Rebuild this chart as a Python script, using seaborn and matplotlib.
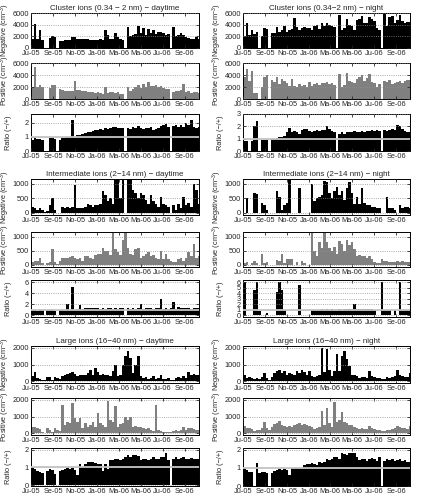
import numpy as np
import seaborn as sns
import matplotlib.pyplot as plt

# weekly means, first week starting 1 July 2005
cluster_day_neg = [1500, 4100, 1500, 3000, 1400, 0, 0, 1700, 2000, 1800,
                   0, 1200, 1200, 1300, 1300, 1400, 1800, 1900, 1500, 1600,
                   1500, 1600, 1500, 1400, 1400, 1300, 1400, 1500, 1300, 3000,
                   2300, 1500, 1600, 2500, 1800, 1600, 1300, 0, 3600, 2000,
                   2200, 2400, 3800, 2600, 3400, 2300, 3300, 2600, 3000, 2400,
                   2800, 2700, 2500, 2200, 2400, 0, 3600, 2000, 2200, 2500,
                   2200, 1800, 1700, 1500, 1500, 1900, 1600]
cluster_day_pos = [2000, 5400, 2000, 2400, 2000, 0, 0, 1800, 2300, 2300,
                   0, 1600, 1500, 1400, 1300, 1400, 1300, 3000, 1500, 1500,
                   1400, 1300, 1200, 1100, 1200, 1000, 1100, 1000, 900, 2000,
                   1000, 1100, 1200, 1000, 1100, 900, 800, 0, 2000, 1400,
                   1600, 2000, 2300, 1800, 2500, 2000, 2800, 2200, 2200, 2400,
                   2000, 2200, 1800, 1700, 1600, 0, 1200, 1300, 1400, 1500,
                   2500, 1200, 1300, 1000, 1100, 1200, 1000]
cluster_day_ratio = [0.8, 0.9, 0.85, 0.85, 0.75, 0, 0, 0.9, 0.9, 0.85,
                     0, 0.8, 0.9, 0.9, 0.95, 0.95, 2.2, 0.95, 1.1, 1.15,
                     1.2, 1.25, 1.3, 1.35, 1.4, 1.45, 1.5, 1.55, 1.5, 1.6,
                     1.55, 1.6, 1.7, 1.7, 1.6, 1.65, 1.6, 0, 1.6, 1.55,
                     1.7, 1.6, 1.75, 1.6, 1.55, 1.65, 1.6, 1.7, 1.5, 1.55,
                     1.6, 1.75, 1.8, 1.9, 1.7, 0, 1.75, 1.8, 1.7, 1.85,
                     1.7, 2.0, 1.8, 2.2, 1.7, 1.65, 1.7]

cluster_night_neg = [1900, 4300, 2200, 3100, 2400, 2800, 0, 2000, 3400, 3300,
                     0, 2500, 2600, 3600, 2700, 3000, 3800, 2800, 3000, 3300,
                     5200, 3600, 3000, 3400, 3600, 3500, 3500, 3000, 3800, 3900,
                     3200, 4200, 3700, 4300, 4000, 3800, 3600, 0, 5600, 3000,
                     3500, 5000, 4000, 3700, 3100, 4800, 5000, 5500, 4300, 4200,
                     5300, 5000, 4600, 3500, 3000, 0, 5800, 3800, 5300, 5400,
                     4200, 4800, 5600, 4600, 4300, 4400, 4500]
cluster_night_pos = [3700, 5000, 3000, 4600, 1000, 1000, 0, 2000, 3600, 4000,
                     0, 3200, 2800, 3600, 2500, 3300, 3000, 2600, 2100, 3300,
                     2200, 2000, 2500, 2100, 2400, 2000, 2800, 2200, 2500, 2600,
                     2300, 2700, 2600, 2800, 2500, 2700, 2400, 0, 4200, 2000,
                     2400, 4300, 3000, 2800, 2600, 3300, 3600, 4000, 3000, 3500,
                     4100, 2800, 2600, 2000, 2500, 0, 3000, 2800, 3200, 2500,
                     2600, 2800, 3000, 2600, 3000, 3100, 3100]
cluster_night_ratio = [0.8, 0.8, 0, 0.8, 2.0, 2.4, 0, 0.9, 0.9, 0.9,
                       0, 0.95, 1.0, 1.05, 1.1, 1.1, 1.2, 1.5, 1.85, 1.5,
                       1.6, 1.5, 1.4, 1.7, 1.8, 1.75, 1.6, 1.5, 1.6, 1.7,
                       1.6, 1.7, 1.7, 2.0, 1.8, 1.6, 1.5, 0, 1.4, 1.5,
                       1.4, 1.5, 1.5, 1.5, 1.6, 1.5, 1.5, 1.6, 1.5, 1.6,
                       1.6, 1.7, 1.6, 1.7, 1.6, 0, 1.7, 1.6, 1.7, 1.8,
                       1.7, 2.1, 2.0, 1.8, 1.6, 1.5, 1.5]

inter_day_neg = [200, 150, 100, 150, 80, 30, 50, 250, 500, 100,
                 0, 0, 200, 180, 200, 180, 200, 950, 150, 150,
                 150, 200, 300, 250, 200, 250, 250, 300, 750, 600,
                 400, 500, 300, 1150, 1300, 500, 1300, 0, 1300, 1300,
                 800, 700, 500, 700, 600, 450, 300, 600, 400, 300,
                 200, 550, 300, 250, 200, 0, 250, 100, 300, 150,
                 550, 250, 350, 200, 1000, 800, 300]
inter_day_pos = [100, 120, 150, 250, 80, 0, 50, 100, 580, 100,
                 30, 150, 250, 250, 250, 280, 300, 250, 200, 250,
                 150, 300, 300, 250, 200, 350, 380, 400, 600, 500,
                 500, 350, 1150, 550, 450, 350, 900, 1150, 600, 400,
                 350, 550, 600, 250, 300, 400, 450, 300, 350, 250,
                 200, 500, 200, 400, 200, 150, 100, 100, 200, 250,
                 150, 250, 450, 300, 750, 250, 300]
inter_day_ratio = [0.9, 0.9, 0.8, 0.9, 0.9, 0, 0.9, 0.9, 0.9, 0.8,
                   0, 0.9, 1.0, 1.0, 2.0, 1.0, 5.2, 1.0, 1.1, 1.8,
                   1.2, 1.3, 1.3, 1.4, 1.3, 1.4, 1.3, 1.2, 1.3, 1.2,
                   1.3, 1.4, 1.2, 1.3, 1.2, 1.3, 1.4, 0, 1.3, 1.2,
                   1.3, 1.2, 1.3, 2.0, 1.2, 1.3, 1.4, 1.3, 1.2, 1.3,
                   1.3, 3.0, 1.2, 1.3, 1.2, 1.3, 2.5, 1.2, 1.6, 1.3,
                   1.4, 1.3, 1.3, 1.2, 1.4, 1.3, 1.3]

inter_night_neg = [0, 500, 0, 0, 700, 650, 0, 330, 250, 80,
                   0, 0, 0, 750, 550, 100, 250, 350, 1130, 0,
                   0, 0, 850, 0, 0, 0, 0, 1000, 400, 500,
                   550, 600, 1100, 1050, 700, 500, 750, 900, 600, 750,
                   450, 850, 1050, 700, 300, 550, 300, 850, 350, 250,
                   250, 200, 200, 150, 150, 0, 0, 550, 150, 150,
                   100, 0, 250, 150, 200, 200, 150]
inter_night_pos = [70, 100, 0, 80, 150, 50, 0, 380, 50, 100,
                   0, 0, 0, 180, 150, 380, 80, 200, 200, 200,
                   0, 100, 0, 150, 50, 0, 0, 1150, 500, 300,
                   800, 600, 1150, 800, 600, 500, 650, 400, 850, 750,
                   500, 900, 700, 800, 550, 300, 350, 300, 300, 250,
                   300, 200, 100, 80, 80, 200, 150, 150, 100, 100,
                   100, 130, 100, 150, 100, 100, 100]
inter_night_ratio = [6.0, 0, 0, 0, 4.5, 6.0, 0.7, 0, 0, 0.5,
                     0, 0, 0, 4.2, 6.0, 4.6, 1.0, 0, 0, 0,
                     0, 0, 5.5, 0, 0, 0, 0, 1.0, 0.9, 1.0,
                     1.0, 1.1, 1.0, 1.1, 1.0, 1.1, 1.0, 1.0, 1.1, 1.0,
                     1.1, 1.2, 1.1, 1.2, 2.0, 1.1, 1.2, 1.1, 1.2, 1.1,
                     1.1, 1.2, 1.0, 0, 0, 6.0, 1.0, 1.0, 1.0, 0,
                     1.0, 0, 6.0, 1.0, 1.0, 1.0, 1.0]

large_day_neg = [300, 550, 200, 150, 50, 100, 250, 250, 100, 250,
                 200, 150, 300, 350, 450, 500, 550, 450, 300, 350,
                 400, 350, 500, 650, 400, 800, 550, 350, 450, 350,
                 400, 300, 600, 1000, 300, 400, 1000, 1500, 1800, 1400,
                 500, 1000, 1500, 300, 200, 250, 150, 200, 300, 150,
                 200, 350, 150, 150, 200, 50, 100, 200, 250, 200,
                 300, 200, 550, 400, 450, 400, 350]
large_day_pos = [400, 350, 300, 250, 100, 0, 300, 200, 100, 300,
                 200, 150, 1700, 500, 700, 600, 1800, 900, 700, 900,
                 300, 600, 400, 500, 650, 400, 1200, 600, 500, 400,
                 1950, 800, 700, 1600, 400, 550, 600, 1000, 800, 1000,
                 400, 450, 350, 400, 300, 250, 300, 200, 150, 1700,
                 200, 150, 100, 100, 100, 100, 150, 200, 150, 200,
                 350, 200, 300, 300, 250, 200, 200]
large_day_ratio = [0.95, 0.9, 0.8, 0.75, 0.7, 0, 0.8, 0.9, 0.85, 0.65,
                   0, 0.8, 0.85, 0.9, 0.95, 0.9, 0.95, 0.85, 0.6, 1.2,
                   1.0, 1.2, 1.3, 1.3, 1.3, 1.25, 1.2, 1.2, 0.8, 1.2,
                   0.9, 1.4, 1.4, 1.5, 1.5, 1.4, 1.5, 1.6, 1.7, 1.6,
                   1.7, 1.7, 1.65, 1.4, 1.5, 1.5, 1.4, 1.5, 1.6, 1.5,
                   1.5, 1.6, 1.6, 1.8, 1.4, 0, 1.5, 1.6, 1.5, 1.55,
                   1.6, 1.5, 1.5, 1.55, 1.5, 1.5, 1.45]

large_night_neg = [350, 200, 250, 200, 150, 200, 150, 250, 500, 200,
                   100, 250, 500, 600, 700, 500, 600, 400, 500, 450,
                   350, 600, 500, 650, 550, 400, 600, 300, 250, 300,
                   400, 2000, 550, 1900, 700, 300, 600, 1600, 600, 1500,
                   1800, 1300, 900, 400, 350, 300, 200, 250, 250, 200,
                   600, 300, 250, 200, 200, 150, 150, 250, 200, 250,
                   300, 700, 400, 300, 250, 250, 500]
large_night_pos = [450, 300, 300, 250, 150, 200, 200, 300, 650, 300,
                   200, 400, 550, 600, 750, 500, 450, 400, 450, 350,
                   500, 550, 600, 500, 550, 500, 450, 350, 250, 300,
                   400, 1350, 500, 1500, 600, 400, 1850, 650, 800, 1250,
                   650, 600, 500, 500, 350, 300, 250, 300, 250, 250,
                   450, 300, 250, 200, 200, 150, 150, 200, 200, 250,
                   300, 450, 350, 300, 300, 250, 450]
large_night_ratio = [0.95, 0.9, 0.8, 0.75, 0, 1.25, 0.7, 0.75, 0.8, 0.7,
                     0, 0.7, 0.85, 0.9, 0.95, 0.9, 0.95, 0.9, 0.6, 1.0,
                     1.0, 1.0, 1.0, 1.0, 1.15, 1.2, 1.2, 1.25, 1.2, 1.15,
                     1.3, 1.25, 1.35, 1.5, 1.45, 1.5, 1.6, 1.6, 1.5, 1.8,
                     1.75, 1.7, 1.8, 1.85, 1.8, 1.6, 1.45, 1.5, 1.5, 1.4,
                     1.5, 1.55, 1.5, 1.4, 1.6, 0, 1.4, 1.5, 1.45, 1.5,
                     1.4, 1.45, 1.5, 1.4, 1.45, 1.35, 1.3]

days = [3.5 + 7 * i for i in range(len(cluster_day_neg))]
tick_days = [0, 62, 123, 184, 243, 304, 365, 427]
tick_labels = ['Ju-05', 'Se-05', 'No-05', 'Ja-06', 'Ma-06', 'Ma-06', 'Ju-06', 'Se-06']

titles = [['Cluster ions (0.34 \u2212 2 nm) \u2212 daytime', 'Cluster ions (0.34\u22122 nm) \u2212 night'],
          ['Intermediate ions (2\u221214 nm) \u2212 daytime', 'Intermediate ions (2\u221214 nm) \u2212 night'],
          ['Large ions (16\u221240 nm) \u2212 daytime', 'Large ions (16\u221240 nm) \u2212 night']]
series = [[(cluster_day_neg, cluster_day_pos, cluster_day_ratio),
           (cluster_night_neg, cluster_night_pos, cluster_night_ratio)],
          [(inter_day_neg, inter_day_pos, inter_day_ratio),
           (inter_night_neg, inter_night_pos, inter_night_ratio)],
          [(large_day_neg, large_day_pos, large_day_ratio),
           (large_night_neg, large_night_pos, large_night_ratio)]]

conc_lim = [(0, 6000), (-80, 1170), (-100, 2100)]
conc_ticks = [[0, 2000, 4000, 6000], [0, 500, 1000], [0, 1000, 2000]]
ratio_lim = [[(0, 2.6), (0, 3)], [(-0.3, 6.4), (-0.3, 6.4)], [(-0.05, 2.1), (0, 2.1)]]
ratio_ticks = [[[0, 1, 2], [0, 1, 2, 3]], [[0, 2, 4, 6], [0, 1, 2, 3, 4, 5, 6]], [[0, 1, 2], [0, 1, 2]]]

# panel rows in pixels (top, bottom)
rows_px = [[(13, 48), (63, 99), (114, 151)],
           [(179, 215), (232, 267), (280, 317)],
           [(346, 383), (398, 435), (448, 486)]]
cols_px = [(31, 199), (243, 410)]

sns.set_style('white')
plt.rcParams['font.family'] = ['Liberation Sans', 'DejaVu Sans']
plt.rcParams['mathtext.fontset'] = 'custom'
plt.rcParams['mathtext.rm'] = 'Liberation Sans'

W, H = 423, 498
fig = plt.figure(figsize=(W / 100, H / 100), dpi=100)

def style_axis(ax, ylim, yticks, ylabel):
    ax.set_xlim(0, 466)
    ax.set_ylim(*ylim)
    ax.set_xticks(tick_days)
    ax.set_xticklabels(tick_labels)
    ax.set_yticks(yticks)
    ax.set_yticklabels([str(t) for t in yticks])
    ax.tick_params(direction='in', length=2, width=0.6, labelsize=5.3, pad=1.5,
                   top=True, right=True, bottom=True, left=True)
    ax.yaxis.grid(True, linestyle=':', color='#909090', linewidth=0.6)
    ax.set_axisbelow(False)
    for s in ax.spines.values():
        s.set_linewidth(0.7)
        s.set_color('black')
    ax.set_xlabel('')
    ax.set_ylabel(ylabel, fontsize=5.3, labelpad=0)
    ax.yaxis.set_label_coords(-0.113, 0.5)

for r in range(3):
    for c in range(2):
        neg, pos, ratio = series[r][c]
        x0, x1 = cols_px[c]
        panels = [(neg, 'black', conc_lim[r], conc_ticks[r], 'Negative (cm$^{-3}$)'),
                  (pos, '#808080', conc_lim[r], conc_ticks[r], 'Positive (cm$^{-3}$)'),
                  (ratio, 'black', ratio_lim[r][c], ratio_ticks[r][c], 'Ratio (\u2212/+)')]
        for k, (vals, col, ylim, yt, lab) in enumerate(panels):
            top, bot = rows_px[r][k]
            ax = fig.add_axes([x0 / W, 1 - bot / H, (x1 - x0) / W, (bot - top) / H])
            sns.barplot(x=days, y=vals, ax=ax, native_scale=True, color=col,
                        saturation=1, width=1, errorbar=None, linewidth=0)
            if k == 2:
                ax.axhline(1, color='#c4c4c4', linewidth=1.3, zorder=5)
            style_axis(ax, ylim, yt, lab)
            if k == 0:
                ax.set_title(titles[r][c], fontsize=5.8, pad=2.5)

fig.savefig('out.png', dpi=100)
